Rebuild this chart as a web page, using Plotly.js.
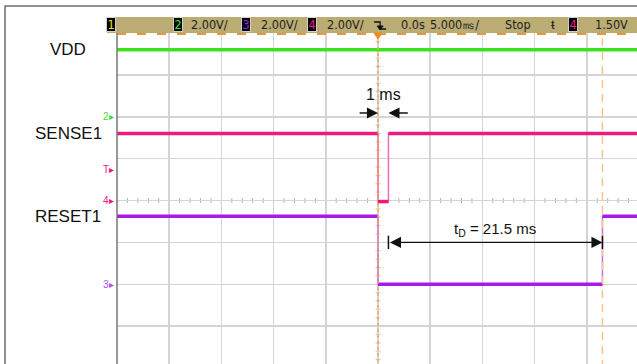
<!DOCTYPE html>
<html><head><meta charset="utf-8">
<script src="https://cdn.plot.ly/plotly-3.0.1.min.js"></script>
<style>html,body{margin:0;padding:0;overflow:hidden;background:#fff}#chart{width:639px;height:368px}</style>
</head><body><div id="chart"></div>
<script>
// ---------------- data (read from the scope capture) ----------------
const vddTime   = [-25, 25];                       // ms
const vddVolt   = [3.2, 3.2];                      // V
const senseTime = [-25, 0, 0, 1, 1, 25];
const senseVolt = [3.2, 3.2, -0.05, -0.05, 3.2, 3.2];
const resetTime = [-25, 0, 0, 21.5, 21.5, 25];
const resetVolt = [3.25, 3.25, 0, 0, 3.25, 3.25];
const channelNames = ['VDD', 'SENSE1', 'RESET1'];
const pulseLabel = '1 ms';
const delayLabel = 't<sub>D</sub> = 21.5 ms';
const triggerLevel = 1.5;                          // V on ch4
const headerVolts = ['2.00V/', '2.00V/', '2.00V/'];
const headerDelay = '0.0s', headerTime = '5.000㎳/', headerMode = 'Stop', headerTrig = '1.50V';

// ---------------- scope settings ----------------
const msPerDiv = 5, voltsPerDiv = 2, hDivs = 10, vDivs = 8;
const ch2Ground = 6, ch3Ground = 2, ch4Ground = 4;   // divisions from bottom
const chRange = g => [-g * voltsPerDiv, (vDivs - g) * voltsPerDiv];

const PL = 117, PW = 522, PT = 33, PH = 335;
const px = x => (x - PL) / PW;
const py = y => (PT + PH - y) / PH;

const GREEN = '#3ee21c', PINK = '#ee1a7c', PURPLE = '#a81ae8';
const NARROW = '"DejaVu Sans Condensed", "Liberation Sans Narrow", sans-serif';
const SANS = '"Liberation Sans", Arial, sans-serif';

function levels(t, v) {           // keep horizontal runs, break at vertical edges
  const xs = [], ys = [];
  for (let i = 0; i < t.length; i++) {
    if (i > 0 && t[i] === t[i - 1]) { xs.push(null); ys.push(null); }
    xs.push(t[i]); ys.push(v[i]);
  }
  return [xs, ys];
}
const [vx, vy] = levels(vddTime, vddVolt);
const [sx, sy] = levels(senseTime, senseVolt);
const [rx, ry] = levels(resetTime, resetVolt);

const xRange = [-hDivs / 2 * msPerDiv, hDivs / 2 * msPerDiv];

const traces = [
  {x: [xRange[0]], y: [-5], xaxis: 'x', yaxis: 'y', mode: 'markers', marker: {size: 1, opacity: 0}, hoverinfo: 'skip'},
  {x: senseTime, y: senseVolt, xaxis: 'x', yaxis: 'y4', mode: 'lines', line: {color: '#f46cb0', width: 1.5}, hoverinfo: 'skip'},
  {x: resetTime, y: resetVolt, xaxis: 'x', yaxis: 'y3', mode: 'lines', line: {color: '#c070f2', width: 1.5}, hoverinfo: 'skip'},
  {x: vx, y: vy, xaxis: 'x', yaxis: 'y2', mode: 'lines', line: {color: GREEN, width: 3.5}, hoverinfo: 'skip', connectgaps: false},
  {x: sx, y: sy, xaxis: 'x', yaxis: 'y4', mode: 'lines', line: {color: PINK, width: 3.5}, hoverinfo: 'skip', connectgaps: false},
  {x: rx, y: ry, xaxis: 'x', yaxis: 'y3', mode: 'lines', line: {color: PURPLE, width: 3.5}, hoverinfo: 'skip', connectgaps: false}
];

const hidden = {showgrid: false, zeroline: false, showticklabels: false, showline: false, ticks: '', fixedrange: true};

const tDelay = resetTime[3], tPulse = senseTime[3];
const arrowY = 3, pulseArrowY = 6.09;

const shapes = [
  // outer frame
  {type: 'path', xref: 'paper', yref: 'paper', path: `M ${px(5)} ${py(370)} L ${px(5)} ${py(6)} L ${px(645)} ${py(6)}`, line: {color: '#6e6e6e', width: 1.5}},
  // header bar
  {type: 'rect', xref: 'paper', yref: 'paper', x0: px(107), x1: px(645), y0: py(33), y1: py(17), fillcolor: '#baac73', line: {width: 0}},
  // orange dashes under header
  {type: 'line', xref: 'paper', yref: 'paper', x0: 0, x1: 1, y0: py(34), y1: py(34), line: {color: '#e39a44', width: 2, dash: '9px,11px'}},
  // screen left border
  {type: 'line', xref: 'paper', yref: 'paper', x0: 0, x1: 0, y0: -0.02, y1: 1, line: {color: '#777', width: 1.5}},
  // trigger time line
  {type: 'line', xref: 'x', yref: 'paper', x0: 0, x1: 0, y0: 0, y1: 1, line: {color: '#f2a44a', width: 1.3, dash: '3px,3px'}},
  // cursor line at delay
  {type: 'line', xref: 'x', yref: 'paper', x0: tDelay, x1: tDelay, y0: 0, y1: py(38), line: {color: '#f8c68a', width: 1.5, dash: '8px,6px'}},
  // tD end bars
  {type: 'line', xref: 'x', yref: 'y', x0: tPulse, x1: tPulse, y0: arrowY - 0.16, y1: arrowY + 0.16, line: {color: '#111', width: 1.5}},
  {type: 'line', xref: 'x', yref: 'y', x0: tDelay, x1: tDelay, y0: arrowY - 0.16, y1: arrowY + 0.16, line: {color: '#111', width: 1.5}},
  // trigger-edge icon in header
  {type: 'path', xref: 'x', yref: 'paper', xsizemode: 'pixel', ysizemode: 'pixel', xanchor: 0.2, yanchor: py(25),
   path: 'M -6 3 L 0 3 L 0 -4 L 6 -4', line: {color: '#111', width: 1.3}},
  {type: 'path', xref: 'x', yref: 'paper', xsizemode: 'pixel', ysizemode: 'pixel', xanchor: 0.2, yanchor: py(25),
   path: 'M -3 -1 L 0 -5 L 3 -1 Z', fillcolor: '#111', line: {color: '#111', width: 1}},
  // trigger marker triangle under header
  {type: 'path', xref: 'x', yref: 'paper', xsizemode: 'pixel', ysizemode: 'pixel', xanchor: 0, yanchor: py(33),
   path: 'M -4 0 L 4 0 L 0 -6 Z', fillcolor: '#f08a1e', line: {color: '#f08a1e', width: 1}}
];
// graticule centre-line minor ticks
for (let t = xRange[0]; t <= xRange[1]; t += msPerDiv / 5) {
  shapes.push({type: 'line', xref: 'x', yref: 'y', xsizemode: 'pixel', ysizemode: 'pixel', xanchor: t, yanchor: vDivs / 2,
    x0: 0, x1: 0, y0: -2.5, y1: 2.5, layer: 'below', line: {color: '#b4b4b4', width: 1}});
}
for (let d = 0; d <= vDivs; d += 0.2) {
  shapes.push({type: 'line', xref: 'x', yref: 'y', xsizemode: 'pixel', ysizemode: 'pixel', xanchor: 0, yanchor: d,
    x0: -2.5, x1: 2.5, y0: 0, y1: 0, layer: 'below', line: {color: '#f0bc80', width: 1}});
}

const hY = py(25);
function hText(text, xc, opts = {}) {
  return Object.assign({xref: 'paper', yref: 'paper', x: px(xc), y: hY, xanchor: 'center', yanchor: 'middle',
    text, showarrow: false, font: {family: NARROW, size: 12.5, color: '#1e1e1e'}}, opts);
}
function hBox(text, xc, color) {
  return hText(text, xc, {bgcolor: '#000', bordercolor: '#cfcfcf', borderwidth: 1, borderpad: 0, width: 8, height: 13,
    font: {family: NARROW, size: 12.5, color}});
}
function marker(text, axis, val, color) {
  return {xref: 'paper', yref: axis, x: -0.001, y: val, xanchor: 'right', yanchor: 'middle', text, showarrow: false,
    font: {family: SANS, size: 10, color}};
}
function label(text, axis, val) {
  return {xref: 'paper', yref: axis, x: px(68), y: val, xanchor: 'center', yanchor: 'middle', text, showarrow: false,
    font: {family: SANS, size: 17, color: '#111'}};
}

const annotations = [
  hBox('1', 111, '#f2e600'),
  hBox('2', 177.5, '#33e633'), hText(headerVolts[0], 209),
  hBox('3', 246, '#a41ef0'), hText(headerVolts[1], 279),
  hBox('4', 312, '#f0208a'), hText(headerVolts[2], 345),
  hText(headerDelay, 412.5), hText(headerTime, 454), hText(headerMode, 518),
  hText('ŧ', 552.5, {font: {family: SANS, size: 13, color: '#1e1e1e'}}),
  hBox('4', 572.5, '#f0208a'), hText(headerTrig, 611),
  label(channelNames[0], 'y2', vddVolt[0]),
  label(channelNames[1], 'y4', senseVolt[0]),
  label(channelNames[2], 'y3', resetVolt[0]),
  marker('2▸', 'y2', 0, '#3fdc3f'),
  marker('T▸', 'y4', triggerLevel, PINK),
  marker('4▸', 'y4', 0, PINK),
  marker('3▸', 'y3', 0, '#b052f0'),
  // 1 ms arrows
  {xref: 'x', yref: 'y', x: 0, y: pulseArrowY, axref: 'x', ayref: 'y', ax: -1.9, ay: pulseArrowY, text: '', showarrow: true,
   arrowhead: 2, arrowsize: 1.7, arrowwidth: 1.3, arrowcolor: '#111', standoff: 0},
  {xref: 'x', yref: 'y', x: tPulse, y: pulseArrowY, axref: 'x', ayref: 'y', ax: tPulse + 2, ay: pulseArrowY, text: '', showarrow: true,
   arrowhead: 2, arrowsize: 1.7, arrowwidth: 1.3, arrowcolor: '#111', standoff: 0},
  {xref: 'x', yref: 'y', x: tPulse / 2, y: 6.52, text: pulseLabel, showarrow: false, xanchor: 'center', yanchor: 'middle',
   font: {family: SANS, size: 16, color: '#111'}},
  // tD double arrow
  {xref: 'x', yref: 'y', x: tDelay, y: arrowY, axref: 'x', ayref: 'y', ax: tPulse, ay: arrowY, text: '', showarrow: true,
   arrowhead: 2, startarrowhead: 2, arrowside: 'end+start', arrowsize: 1.7, startarrowsize: 1.7, arrowwidth: 1.3,
   arrowcolor: '#111', standoff: 0, startstandoff: 0},
  {xref: 'x', yref: 'y', x: (tPulse + tDelay) / 2, y: 3.3, text: delayLabel, showarrow: false, xanchor: 'center', yanchor: 'middle',
   font: {family: SANS, size: 15, color: '#111'}}
];

const layout = {
  width: 639, height: 368,
  margin: {l: PL, r: 639 - PL - PW, t: PT, b: 368 - PT - PH, pad: 0},
  paper_bgcolor: '#fff', plot_bgcolor: '#fff', showlegend: false,
  xaxis: {range: xRange, dtick: msPerDiv, tick0: 0, showgrid: true, gridcolor: '#d4d4d4', gridwidth: 1.5,
          zeroline: false, showticklabels: false, showline: false, ticks: '', fixedrange: true},
  yaxis: {range: [0, vDivs], dtick: 1, tick0: 0, showgrid: true, gridcolor: '#d4d4d4', gridwidth: 1.5, zeroline: false,
          showticklabels: false, showline: false, ticks: '', fixedrange: true},
  yaxis2: Object.assign({}, hidden, {overlaying: 'y', range: chRange(ch2Ground)}),
  yaxis3: Object.assign({}, hidden, {overlaying: 'y', range: chRange(ch3Ground)}),
  yaxis4: Object.assign({}, hidden, {overlaying: 'y', range: chRange(ch4Ground)}),
  shapes, annotations
};

Plotly.newPlot('chart', traces, layout, {staticPlot: true, displayModeBar: false});
</script></body></html>
